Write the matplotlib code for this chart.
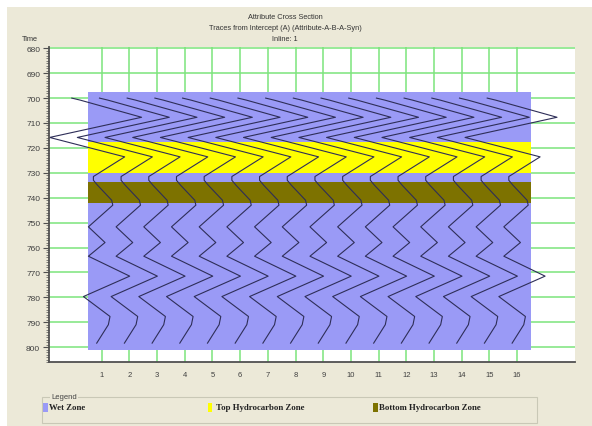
import matplotlib
matplotlib.use('Agg')
import matplotlib.pyplot as plt
from matplotlib.patches import Rectangle
from matplotlib.ticker import MultipleLocator

# synthetic wavelet shared by every trace: time and amplitude (in trace spacing units)
wavelet_time = [700.0, 700.8, 707.7, 715.8, 723.6, 731.5, 733.0, 735.0, 741.0, 743.0,
                751.7, 758.0, 763.5, 771.5, 779.7, 787.7, 791.0, 798.4]
wavelet_amp = [-1.08, -0.78, 1.44, -1.88, 0.83, -0.30, -0.30, -0.15, 0.36, 0.40,
               -0.48, 0.12, -0.48, 1.01, -0.66, 0.30, 0.24, -0.18]

trace_numbers = list(range(1, 17))
time_ticks = list(range(680, 801, 10))

zone_names = ['Wet Zone', 'Top Hydrocarbon Zone', 'Bottom Hydrocarbon Zone']
zone_tops = [697.5, 717.5, 733.5]
zone_bases = [801.3, 730.0, 742.0]
zone_colors = ['#9a9af6', '#ffff00', '#7d7200']

W, H = 592, 427


def px(x, y):
    return x / W, 1 - y / H


fig = plt.figure(figsize=(W / 100, H / 100), dpi=100, facecolor='white')
fig.add_artist(Rectangle(px(7, H), 1, 1 - 8 / H, transform=fig.transFigure,
                         facecolor='#ece9d8', edgecolor='none', zorder=-10))

left, top = px(49, 48.3)
right, bottom = px(575, 363.3)
ax = fig.add_axes([left, bottom, right - left, top - bottom])
ax.set_facecolor('white')
ax.set_xlim(-0.903, 18.09)
ax.set_ylim(806.1, 679.6)

for s in ['top', 'right']:
    ax.spines[s].set_visible(False)
for s in ['left', 'bottom']:
    ax.spines[s].set_color('#505050')
    ax.spines[s].set_linewidth(1.3)

ax.set_xticks(trace_numbers)
ax.set_yticks(time_ticks)
ax.yaxis.set_minor_locator(MultipleLocator(1))
ax.tick_params(axis='x', length=0, pad=6.5, labelsize=5.5, labelcolor='#404040')
ax.tick_params(axis='y', which='major', length=4.3, width=0.8, color='#505050',
               pad=2, labelsize=6, labelcolor='#404040')
ax.tick_params(axis='y', which='minor', length=2.5, width=0.5, color='#505050')
for lab in ax.get_xticklabels() + ax.get_yticklabels():
    lab.set_family('Liberation Sans')

ax.set_axisbelow(True)
ax.grid(True, which='major', color='#7ce47c', linewidth=1.1)

for top_t, base_t, col in zip(zone_tops, zone_bases, zone_colors):
    ax.add_patch(Rectangle((0.5, top_t), 16, base_t - top_t,
                           facecolor=col, edgecolor='none', zorder=1))

for n in trace_numbers:
    ax.plot([n + a for a in wavelet_amp], wavelet_time,
            color='#2e2e58', linewidth=0.8, zorder=2)

title_lines = ['Attribute Cross Section',
               'Traces from Intercept (A) (Attribute-A-B-A-Syn)',
               'Inline: 1']
for i, line in enumerate(title_lines):
    fig.text(*px(285, 17.7 + 10.8 * i), line, ha='center', va='center',
             fontsize=5.3, family='Liberation Sans', color='#333333')
fig.text(*px(30, 39.3), 'Time', ha='center', va='center',
         fontsize=5.3, family='Liberation Sans', color='#333333')

# legend group box
x0, y0 = px(42, 424)
x1, y1 = px(537, 398)
fig.add_artist(Rectangle((x0, y0), x1 - x0, y1 - y0, transform=fig.transFigure,
                         facecolor='none', edgecolor='#c9c8b6', linewidth=0.8))
fig.text(*px(51, 397.5), 'Legend', ha='left', va='center', fontsize=5.5,
         family='Liberation Sans', color='#444444',
         bbox=dict(facecolor='#ece9d8', edgecolor='none', pad=0.6))

swatch_x = [43, 207.5, 373]
text_x = [49, 215.5, 379]
for name, col, sx, tx in zip(zone_names, zone_colors, swatch_x, text_x):
    rx, ry = px(sx, 413)
    fig.add_artist(Rectangle((rx, ry), 4.5 / W, 9 / H, transform=fig.transFigure,
                             facecolor=col, edgecolor='none'))
    fig.text(*px(tx, 408.5), name, ha='left', va='center', fontsize=6.3,
             family='Liberation Serif', weight='bold', color='#222222')

fig.savefig('out.png', dpi=100, facecolor=fig.get_facecolor())
